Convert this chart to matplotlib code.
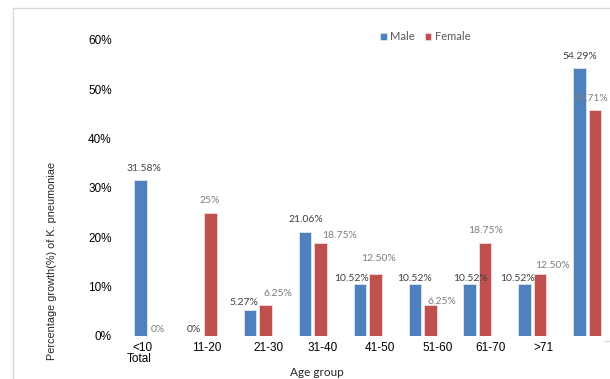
import matplotlib.pyplot as plt
from matplotlib.lines import Line2D

# data
groups = ['<10', '11-20', '21-30', '31-40', '41-50', '51-60', '61-70', '>71', 'Total']
male = [31.58, 0, 5.27, 21.06, 10.52, 10.52, 10.52, 10.52, 54.29]
female = [0, 25, 6.25, 18.75, 12.50, 6.25, 18.75, 12.50, 45.71]
male_labels = ['31.58%', '0%', '5.27%', '21.06%', '10.52%', '10.52%', '10.52%', '10.52%', '54.29%']
female_labels = ['0%', '25%', '6.25%', '18.75%', '12.50%', '6.25%', '18.75%', '12.50%', '45.71%']
yticks = [0, 10, 20, 30, 40, 50, 60]

# label nudges in pixels (dx, dy above bar top) - labels were hand placed in the original
male_off = [(4, 11), (-1, 7), (-6, 7), (1, 12), (-8, 6), (0, 6), (1, 6), (-7, 6), (0, 11)]
female_off = [(2, 7), (-1, 12), (12, 12), (19, 8), (3, 16), (12, 4), (0, 13), (12, 9), (-4, 12)]
# x tick labels are shifted a bit off the group centres
tick_shift = [-0.11, 0.075, 0.19, 0.19, 0.23, 0.28, 0.24, 0.2]

blue = '#4F81BD'
red = '#C0504D'

W, H = 610, 379
fig = plt.figure(figsize=(6.1, 3.79), dpi=100)
# axes box in pixels: left 120, right 620 (runs past the crop), top 39.6, bottom 336
ax = fig.add_axes([120 / W, (H - 336) / H, 500 / W, 296.4 / H])

x = list(range(len(groups)))
bw = 0.228
off = 0.141
mx = [i - off for i in x]
fx = [i + off for i in x]
ax.bar(mx, male, bw, color=blue, edgecolor='#dce6f2', linewidth=0.6, label='Male')
ax.bar(fx, female, bw, color=red, edgecolor='#f2dcdb', linewidth=0.6, label='Female')

for i in x:
    ax.annotate(male_labels[i], (mx[i], male[i]), xytext=male_off[i], textcoords='offset pixels',
                ha='center', va='center', fontsize=7.5, family='Lato', color='#404040',
                annotation_clip=False)
    ax.annotate(female_labels[i], (fx[i], female[i]), xytext=female_off[i], textcoords='offset pixels',
                ha='center', va='center', fontsize=7.5, family='Lato', color='#7f7f7f',
                annotation_clip=False)

ax.set_xlim(-0.51, 8.597)
ax.set_ylim(0, 60)
ax.set_yticks(yticks)
ax.set_yticklabels([f'{v}%' for v in yticks], family='Liberation Sans', fontsize=8.5)
ax.set_xticks([i + s for i, s in zip(x[:8], tick_shift)])
ax.set_xticklabels(groups[:8], family='Liberation Sans', fontsize=8.5)
ax.tick_params(axis='both', length=0)
ax.tick_params(axis='y', pad=6)
ax.tick_params(axis='x', pad=4)
for s in ax.spines.values():
    s.set_visible(False)

# "Total" ended up under the first group in the original
fig.text(139 / W, 1 - 359 / H, 'Total', ha='center', va='center',
         family='Liberation Sans', fontsize=8.5)

fig.text(317 / W, 1 - 372 / H, 'Age group', ha='center', va='center',
         family='Lato', fontsize=8.5, color='#262626')
fig.text(52 / W, 1 - 261 / H, 'Percentage growth(%) of K. pneumoniae', rotation=90,
         ha='center', va='center', family='Liberation Sans', fontsize=7.8, color='#262626')

fig.legend(loc='center', bbox_to_anchor=(425 / W, 1 - 37 / H), ncol=2, frameon=False,
           prop={'family': 'Lato', 'size': 8}, labelcolor='#595959',
           handlelength=0.6, handleheight=0.6, handletextpad=0.3, columnspacing=0.9)

# chart border (cropped) and the stray axis stub at bottom right
fig.add_artist(Line2D([13 / W, 1], [1 - 7.5 / H, 1 - 7.5 / H], color='#d9d9d9', lw=1))
fig.add_artist(Line2D([13 / W, 13 / W], [0, 1 - 7.5 / H], color='#d9d9d9', lw=1))
fig.add_artist(Line2D([605 / W, 1], [1 - 341 / H, 1 - 341 / H], color='#d9d9d9', lw=1))

fig.savefig('out.png', dpi=100)
